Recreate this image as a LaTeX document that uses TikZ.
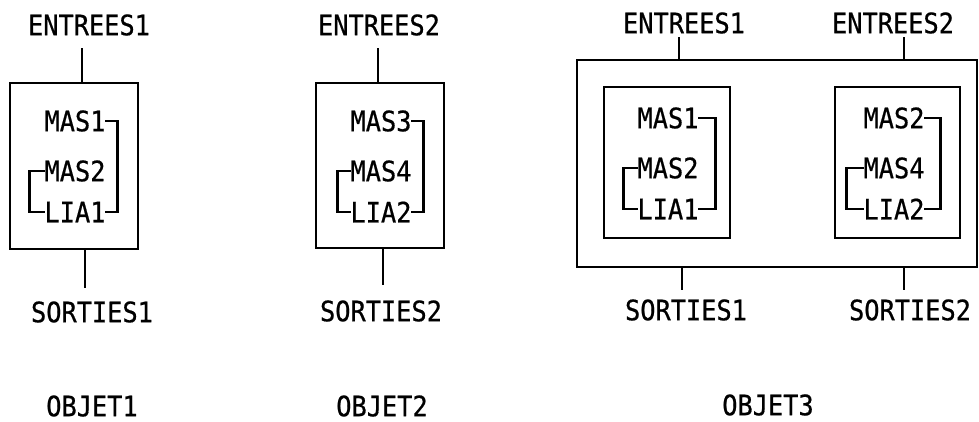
\documentclass[tikz,border=0pt]{standalone}
\usepackage{fontspec}
\setmonofont[FakeStretch=0.9, FakeBold=0.6]{DejaVu Sans Mono}
\usetikzlibrary{positioning}

\begin{document}
\begin{tikzpicture}[
	x=0.025cm, y=-0.025cm,
	txt/.style={font=\ttfamily\fontsize{20}{22}\selectfont, inner sep=0pt, outer sep=0pt},
	boite/.style={draw=black, line width=1.9pt, inner sep=0pt, outer sep=0pt},
	lien/.style={draw=black, line width=1.7pt}
	]
	\useasboundingbox (0,0) rectangle (979,421);
	% boites
	\node[boite, minimum width=3.2cm, minimum height=4.15cm] (obj1) at (74,166) {};
	\node[boite, minimum width=3.2cm, minimum height=4.125cm] (obj2) at (380,165.5) {};
	\node[boite, minimum width=10cm, minimum height=5.175cm] (obj3) at (777,163.5) {};
	\node[boite, minimum width=3.15cm, minimum height=3.775cm] (in1) at (667,162.5) {};
	\node[boite, minimum width=3.125cm, minimum height=3.775cm] (in2) at (897.5,162.5) {};
	% contenu des boites
	\foreach \n/\cx/\cy/\a/\b/\c/\dr/\dl in {p/75/121/MAS1/MAS2/LIA1/12/15, q/381/121/MAS3/MAS4/LIA2/12/13, r/668/118/MAS1/MAS2/LIA1/17/14, s/894/118/MAS2/MAS4/LIA2/16/17}{
		\node[txt] (\n1) at (\cx,\cy) {\a};
		\node[txt] (\n2) at (\cx,\cy+50) {\b};
		\node[txt] (\n3) at (\cx,\cy+91) {\c};
		\draw[lien] (\n1.east) -- ++(\dr,0) |- (\n3.east);
		\draw[lien] (\n2.west) -- ++(-\dl,0) |- (\n3.west);
	}
	% entrees et sorties
	\node[txt] (e1) at (89,25) {ENTREES1};
	\node[txt] (e2) at (379,25) {ENTREES2};
	\node[txt] (e3) at (684,23) {ENTREES1};
	\node[txt] (e4) at (893,23) {ENTREES2};
	\node[txt] (s1) at (92,312) {SORTIES1};
	\node[txt] (s2) at (381,311) {SORTIES2};
	\node[txt] (s3) at (686,310) {SORTIES1};
	\node[txt] (s4) at (910,310) {SORTIES2};
	\foreach \b/\dx/\t/\ecart in {obj1/0.2/e1/0.315, obj2/-0.05/e2/0.315, obj3/-2.45/e3/0.095, obj3/3.175/e4/0.095}{
		\path ([xshift=\dx cm]\b.north) coordinate (\t-pt);
		\draw[lien, shorten >=\ecart cm] (\t-pt) -- (\t-pt |- \t.south);
	}
	\foreach \b/\dx/\t/\ecart in {obj1/0.275/s1/0.345, obj2/0.075/s2/0.395, obj3/-2.375/s3/0.245, obj3/3.175/s4/0.245}{
		\path ([xshift=\dx cm]\b.south) coordinate (\t-pt);
		\draw[lien, shorten >=\ecart cm] (\t-pt) -- (\t-pt |- \t.north);
	}
	% noms des objets
	\node[txt] (o1) at (92,406) {OBJET1};
	\node[txt] (o2) at (382,406) {OBJET2};
	\node[txt] (o3) at (768,405) {OBJET3};
\end{tikzpicture}
\end{document}
